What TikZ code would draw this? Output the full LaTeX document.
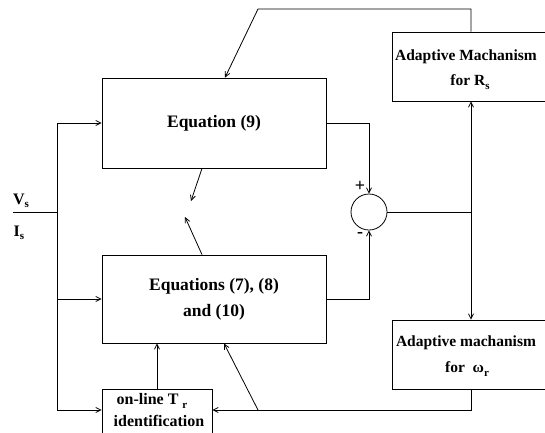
\documentclass[tikz,border=0pt]{standalone}
\usepackage{fontspec}
\setmainfont{Liberation Serif}
\usetikzlibrary{arrows.meta}
\newcommand\subs[1]{\raisebox{-0.45ex}{\fontsize{11}{11}\selectfont #1}}
\begin{document}
\begin{tikzpicture}[x=1pt,y=-1pt,
  box/.style={draw, line width=0.8pt, inner sep=0pt},
  eqtxt/.style={font=\fontsize{17.5}{26}\selectfont\bfseries, align=center},
  adtxt/.style={font=\fontsize{15.5}{25}\selectfont\bfseries, inner sep=0pt},
  trtxt/.style={font=\fontsize{16}{20}\selectfont\bfseries, inner sep=0pt},
  sgn/.style={font=\fontsize{18}{18}\selectfont\bfseries, inner sep=0pt},
  ln/.style={line width=0.8pt},
  arr/.style={line width=0.8pt, -{Straight Barb[length=5pt,width=5pt]}}]
\useasboundingbox (0,0) rectangle (545,432);
% blocks
\node[box, minimum width=224pt, minimum height=90pt, eqtxt] (eq9) at (214,123) {Equation (9)};
\node[box, minimum width=224pt, minimum height=88pt, eqtxt] (eq710) at (214,299) {Equations (7), (8)\\and (10)};
\node[box, minimum width=170pt, minimum height=69pt] (rs) at (477,66.5) {};
\node[adtxt] (rst1) at (466,57) {Adaptive Machanism};
\node[adtxt] (rst2) at (470,82) {for R\subs{s}};
\node[box, minimum width=170pt, minimum height=69pt] (om) at (477,354.5) {};
\node[adtxt] (omt1) at (466,343) {Adaptive machanism};
\node[adtxt] (omt2) at (467,369) {for~ ω\subs{r}};
\node[box, minimum width=110pt, minimum height=60pt] (tr) at (157,419) {};
\node[trtxt] (trt1) at (152,401) {on-line T~\subs{r}};
\node[trtxt] (trt2) at (159,421) {identification};
\node[draw, circle, minimum size=36pt, inner sep=0pt, line width=0.8pt] (sum) at (369,212) {};
\node[sgn] (plus) at (360,186) {+};
\node[sgn] (minus) at (360,235) {-};
\node[trtxt] (vs) at (21,201) {V\subs{s}};
\node[trtxt] (is) at (19,233) {I\subs{s}};
% coordinates
\coordinate (jn) at (471,212);
\coordinate (top) at (258,9);
\coordinate (x225) at (225,0);
\coordinate (x224) at (224,0);
\coordinate (x202) at (202,0);
\coordinate (vin) at (13,212);
\coordinate (vj) at (57,212);
\coordinate (bus1) at (57,123);
\coordinate (bus3) at (57,410);
\coordinate (diag) at (258,410);
\coordinate (m1) at (191,201);
\coordinate (m2) at (185,217);
% connectors
\draw[arr] (rs.north -| jn) |- (top) -- (eq9.north -| x225);
\draw[ln] (vin) -- (vj);
\draw[ln] (bus1) -- (bus3);
\draw[arr] (bus1) -- (eq9.west);
\draw[arr] (eq710.west -| bus1) -- (eq710.west);
\draw[arr] (bus3) -- (tr.west |- bus3);
\draw[arr] (eq9.east) -| (sum.north);
\draw[arr] (eq710.east) -| (sum.south);
\draw[ln] (sum.east) -- (jn);
\draw[arr] (jn) -- (rs.south -| jn);
\draw[arr] (jn) -- (om.north -| jn);
\draw[arr] (om.south -| jn) |- (tr.east |- bus3);
\draw[arr] (tr.north) -- (eq710.south -| tr.north);
\draw[arr] (diag) -- (eq710.south -| x224);
\draw[arr] (eq9.south -| x202) -- (m1);
\draw[arr] (eq710.north -| x202) -- (m2);
\end{tikzpicture}
\end{document}
